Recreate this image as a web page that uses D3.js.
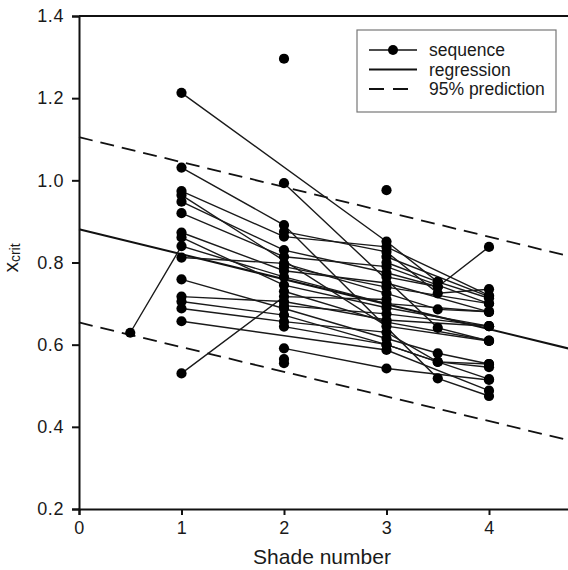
<!DOCTYPE html>
<html>
<head>
<meta charset="utf-8">
<script src="https://cdn.jsdelivr.net/npm/d3@7"></script>
<style>
  body { margin: 0; background: #fff; }
  svg text { font-family: "Liberation Sans", Arial, sans-serif; fill: #1a1a1a; }
</style>
</head>
<body>
<div id="chart"></div>
<script>
// shade numbers and x_crit values of each sequence (one array per sequence)
var seqShades = [
    [0.5, 1, 2, 3, 4],
    [1, 3, 3.5, 4],
    [1, 2, 3.5, 4],
    [1, 2, 3, 4],
    [1, 3, 4],
    [1, 2, 3, 3.5, 4],
    [1, 2, 3, 4],
    [1, 2, 3, 4],
    [1, 2, 3, 4],
    [1, 2, 3, 3.5, 4],
    [1, 2, 3, 3.5, 4],
    [1, 2, 3, 4],
    [1, 2, 3, 4],
    [1, 2, 3, 3.5, 4],
    [1, 3, 4],
    [1, 2, 3],
    [2],
    [2, 3.5, 4],
    [2, 3, 3.5, 4],
    [2, 3, 4],
    [2, 3, 4],
    [2, 3, 3.5, 4],
    [2, 3, 4],
    [2],
    [2],
    [3],
    [3, 4],
    [3, 3.5],
    [3, 3.5],
    [2, 3, 4]
];
var seqValues = [
    [0.629, 0.840, 0.765, 0.700, 0.680],
    [1.213, 0.851, 0.753, 0.713],
    [1.031, 0.891, 0.518, 0.475],
    [0.974, 0.863, 0.838, 0.720],
    [0.964, 0.645, 0.609],
    [0.948, 0.830, 0.775, 0.741, 0.838],
    [0.920, 0.814, 0.790, 0.700],
    [0.873, 0.780, 0.750, 0.680],
    [0.861, 0.745, 0.690, 0.645],
    [0.812, 0.798, 0.725, 0.686, 0.680],
    [0.759, 0.688, 0.615, 0.579, 0.553],
    [0.717, 0.705, 0.660, 0.645],
    [0.705, 0.672, 0.600, 0.516],
    [0.688, 0.656, 0.630, 0.558, 0.545],
    [0.657, 0.587, 0.488],
    [0.530, 0.717, 0.710],
    [1.296],
    [0.993, 0.641, 0.609],
    [0.875, 0.826, 0.725, 0.735],
    [0.790, 0.740, 0.700],
    [0.695, 0.675, 0.645],
    [0.644, 0.600, 0.558, 0.553],
    [0.591, 0.542, 0.514],
    [0.565],
    [0.555],
    [0.976],
    [0.814, 0.717],
    [0.800, 0.753],
    [0.765, 0.741],
    [0.730, 0.655, 0.610]
];

// regression and 95% prediction lines, values at shade 0 and shade 5
var lineShades = [0, 5];
var regression = [0.881, 0.577];
var predUpper = [1.105, 0.802];
var predLower = [0.654, 0.354];

var xTicks = [0, 1, 2, 3, 4];
var yTicks = [0.2, 0.4, 0.6, 0.8, 1.0, 1.2, 1.4];
var legendLabels = ["sequence", "regression", "95% prediction"];

var fullwidth = 568, fullheight = 570;
var margin = {top: 16, left: 79, bottom: 61};

var svg = d3.select("#chart").append("svg")
    .attr("width", fullwidth)
    .attr("height", fullheight);

var xScale = d3.scaleLinear().domain([0, 5]).range([margin.left, margin.left + 5 * 102.5]);
var yScale = d3.scaleLinear().domain([0.2, 1.4]).range([fullheight - margin.bottom, margin.top]);

var line = d3.line()
    .x(function(d) { return xScale(d[0]); })
    .y(function(d) { return yScale(d[1]); });

// regression + prediction band
svg.append("path")
    .datum(d3.zip(lineShades, regression))
    .attr("d", line)
    .attr("fill", "none")
    .attr("stroke", "#111")
    .attr("stroke-width", 2);
[predUpper, predLower].forEach(function(vals) {
    svg.append("path")
        .datum(d3.zip(lineShades, vals))
        .attr("d", line)
        .attr("fill", "none")
        .attr("stroke", "#111")
        .attr("stroke-width", 1.8)
        .attr("stroke-dasharray", "14,8");
});

// sequences
var seqs = seqShades.map(function(s, i) { return d3.zip(s, seqValues[i]); });

svg.selectAll(".seq")
    .data(seqs)
    .enter()
    .append("path")
        .attr("class", "seq")
        .attr("d", line)
        .attr("fill", "none")
        .attr("stroke", "#1a1a1a")
        .attr("stroke-width", 1.4);

svg.selectAll(".dot")
    .data(d3.merge(seqs))
    .enter()
    .append("circle")
        .attr("class", "dot")
        .attr("cx", function(d) { return xScale(d[0]); })
        .attr("cy", function(d) { return yScale(d[1]); })
        .attr("r", 5.1)
        .attr("fill", "#000");

// axes
var xAxis = d3.axisBottom(xScale).tickValues(xTicks).tickSizeOuter(0).tickSize(6).tickPadding(6)
    .tickFormat(d3.format("d"));
var gx = svg.append("g")
    .attr("transform", "translate(0," + yScale(0.2) + ")")
    .call(xAxis);

var yAxis = d3.axisLeft(yScale).tickValues(yTicks).tickSizeOuter(0).tickSize(7).tickPadding(8)
    .tickFormat(d3.format(".1f"));
var gy = svg.append("g")
    .attr("transform", "translate(" + xScale(0) + ",0)")
    .call(yAxis);

[gx, gy].forEach(function(g) {
    g.select(".domain").attr("stroke", "#111").attr("stroke-width", 2);
    g.selectAll(".tick line").attr("stroke", "#111").attr("stroke-width", 2);
    g.selectAll(".tick text")
        .style("font-family", "Liberation Sans, Arial, sans-serif")
        .style("font-size", "18px")
        .style("letter-spacing", "0.6px")
        .attr("fill", "#1a1a1a");
});

// top frame line
svg.append("line")
    .attr("x1", xScale(0)).attr("x2", xScale(5))
    .attr("y1", yScale(1.4)).attr("y2", yScale(1.4))
    .attr("stroke", "#111")
    .attr("stroke-width", 2);

// axis labels
svg.append("text")
    .attr("x", 322)
    .attr("y", 564)
    .attr("text-anchor", "middle")
    .style("font-size", "21px")
    .text("Shade number");

var ylab = svg.append("text")
    .attr("transform", "translate(18,258) rotate(-90)")
    .attr("text-anchor", "middle");
ylab.append("tspan").style("font-size", "21px").text("x");
ylab.append("tspan").style("font-size", "14px").attr("dy", 2).text("crit");

// legend
var legend = svg.append("g").attr("transform", "translate(357,30)");
legend.append("rect")
    .attr("width", 199)
    .attr("height", 82)
    .attr("fill", "#fff")
    .attr("stroke", "#777")
    .attr("stroke-width", 1.2);

var rows = legend.selectAll(".row")
    .data(legendLabels)
    .enter()
    .append("g")
        .attr("class", "row")
        .attr("transform", function(d, i) { return "translate(0," + (20 + i * 19.5) + ")"; });

rows.append("line")
    .attr("x1", 12).attr("x2", 60)
    .attr("stroke", "#111")
    .attr("stroke-width", function(d, i) { return i == 0 ? 1.3 : (i == 1 ? 2 : 1.8); })
    .attr("stroke-dasharray", function(d, i) { return i == 2 ? "15,9" : null; });
rows.filter(function(d, i) { return i == 0; })
    .append("circle")
    .attr("cx", 36)
    .attr("r", 5)
    .attr("fill", "#000");
rows.append("text")
    .attr("x", 72)
    .attr("dy", "0.35em")
    .style("font-size", "17.5px")
    .text(function(d) { return d; });
</script>
</body>
</html>
